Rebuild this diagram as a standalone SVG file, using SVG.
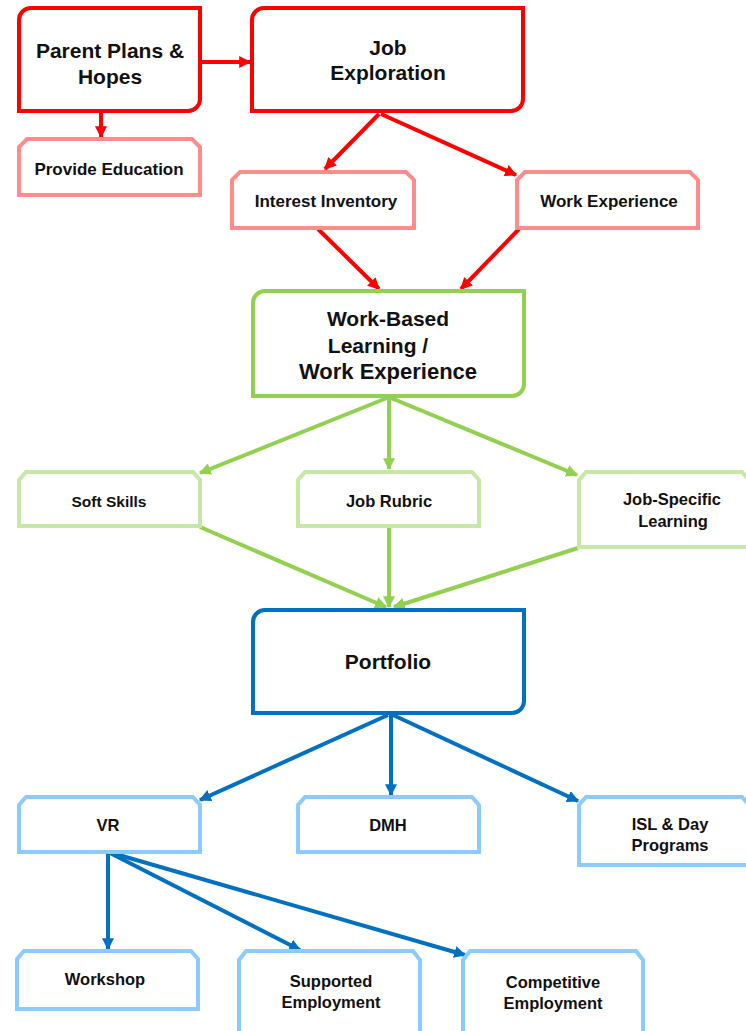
<svg xmlns="http://www.w3.org/2000/svg" width="746" height="1031" viewBox="0 0 746 1031">
  <style>
    text { font-family: "Liberation Sans", Arial, sans-serif; font-weight: bold; fill: #111; text-anchor: middle; }
    .big { font-size: 21px; }
    .mid { font-size: 17px; }
    .sm { font-size: 16.5px; }
    .box { fill: #fff; stroke-width: 4; stroke-linejoin: miter; }
    .red { stroke: #FF0000; }
    .pink { stroke: #FF8C8C; }
    .green { stroke: #92D050; }
    .lgreen { stroke: #C6E7A6; }
    .blue { stroke: #0070C0; }
    .lblue { stroke: #8DCAFF; }
    .c { fill: none; stroke-width: 4; }
  </style>
  <defs>
    <marker id="ah-red" viewBox="0 0 10 10" refX="9" refY="5" markerWidth="3" markerHeight="3" orient="auto" markerUnits="strokeWidth">
      <path d="M0,0 L10,5 L0,10 Z" fill="#FF0000"/>
    </marker>
    <marker id="ah-green" viewBox="0 0 10 10" refX="9" refY="5" markerWidth="3" markerHeight="3" orient="auto" markerUnits="strokeWidth">
      <path d="M0,0 L10,5 L0,10 Z" fill="#92D050"/>
    </marker>
    <marker id="ah-blue" viewBox="0 0 10 10" refX="9" refY="5" markerWidth="3" markerHeight="3" orient="auto" markerUnits="strokeWidth">
      <path d="M0,0 L10,5 L0,10 Z" fill="#0070C0"/>
    </marker>
  </defs>

  <!-- connectors -->
  <g id="connectors">
    <g class="c" stroke="#FF0000" marker-end="url(#ah-red)">
      <line x1="202" y1="62" x2="250" y2="62"/>
      <line x1="101" y1="112" x2="101" y2="137"/>
      <line x1="379" y1="114" x2="325" y2="169"/>
      <line x1="381" y1="114" x2="516" y2="175"/>
      <line x1="318" y1="229" x2="379" y2="289"/>
      <line x1="519" y1="229" x2="461" y2="289"/>
    </g>
    <g class="c" stroke="#92D050" marker-end="url(#ah-green)">
      <line x1="387" y1="398" x2="200" y2="473"/>
      <line x1="389" y1="398" x2="389" y2="469"/>
      <line x1="391" y1="398" x2="577" y2="475"/>
      <line x1="200" y1="527" x2="386" y2="607"/>
      <line x1="389" y1="528" x2="389" y2="607"/>
      <line x1="578" y1="548" x2="394" y2="607"/>
    </g>
    <g class="c" stroke="#0070C0" marker-end="url(#ah-blue)">
      <line x1="388" y1="715" x2="200" y2="800"/>
      <line x1="391" y1="715" x2="391" y2="795"/>
      <line x1="393" y1="715" x2="578" y2="801"/>
      <line x1="108" y1="853" x2="108" y2="949"/>
      <line x1="110" y1="853" x2="300" y2="950"/>
      <line x1="112" y1="853" x2="465" y2="955"/>
    </g>
  </g>

  <!-- top tier -->
  <g id="parent-plans">
    <path class="box red" d="M19,20 A12,12 0 0 1 31,8 H200 V99 A12,12 0 0 1 188,111 H19 Z"/>
    <text class="big" x="110" y="58">Parent Plans &amp;</text>
    <text class="big" x="110" y="84">Hopes</text>
  </g>
  <g id="job-exploration">
    <path class="box red" d="M252,20 A12,12 0 0 1 264,8 H523 V99 A12,12 0 0 1 511,111 H252 Z"/>
    <text class="big" x="388" y="55">Job</text>
    <text class="big" x="388" y="80">Exploration</text>
  </g>
  <g id="provide-education">
    <path class="box pink" d="M19,195 V147 L27,139 H192 L200,147 V195 Z"/>
    <text class="mid" x="109" y="175">Provide Education</text>
  </g>
  <g id="interest-inventory">
    <path class="box pink" d="M232,228 V180 L240,172 H406 L414,180 V228 Z"/>
    <text class="mid" x="326" y="207">Interest Inventory</text>
  </g>
  <g id="work-experience-1">
    <path class="box pink" d="M517,228 V180 L525,172 H690 L698,180 V228 Z"/>
    <text class="mid" x="609" y="207">Work Experience</text>
  </g>

  <!-- middle tier -->
  <g id="work-based-learning">
    <path class="box green" d="M253,303 A12,12 0 0 1 265,291 H524 V384 A12,12 0 0 1 512,396 H253 Z"/>
    <text class="big" x="388" y="326">Work-Based</text>
    <text class="big" x="378" y="353">Learning /</text>
    <text class="big" x="388" y="379" style="font-size:22px">Work Experience</text>
  </g>
  <g id="soft-skills">
    <path class="box lgreen" d="M19,526 V480 L26,472 H193 L200,480 V526 Z"/>
    <text class="sm" x="109" y="507" style="font-size:15.5px">Soft Skills</text>
  </g>
  <g id="job-rubric">
    <path class="box lgreen" d="M298,526 V480 L305,472 H472 L479,480 V526 Z"/>
    <text class="sm" x="389" y="507">Job Rubric</text>
  </g>
  <g id="job-specific-learning">
    <path class="box lgreen" d="M579,547 V480 L586,472 H742 L749,480 V547 Z"/>
    <text class="sm" x="672" y="505">Job-Specific</text>
    <text class="sm" x="673" y="527">Learning</text>
  </g>

  <!-- portfolio and services -->
  <g id="portfolio">
    <path class="box blue" d="M253,622 A12,12 0 0 1 265,610 H524 V701 A12,12 0 0 1 512,713 H253 Z"/>
    <text class="big" x="388" y="669">Portfolio</text>
  </g>
  <g id="vr">
    <path class="box lblue" d="M19,852 V805 L26,797 H193 L200,805 V852 Z"/>
    <text class="sm" x="108" y="831">VR</text>
  </g>
  <g id="dmh">
    <path class="box lblue" d="M298,852 V805 L305,797 H472 L479,805 V852 Z"/>
    <text class="sm" x="388" y="831">DMH</text>
  </g>
  <g id="isl-day-programs">
    <path class="box lblue" d="M579,865 V805 L586,797 H742 L749,805 V865 Z"/>
    <text class="sm" x="670" y="830">ISL &amp; Day</text>
    <text class="sm" x="670" y="851">Programs</text>
  </g>
  <g id="workshop">
    <path class="box lblue" d="M17,1009 V959 L24,951 H191 L198,959 V1009 Z"/>
    <text class="sm" x="105" y="985">Workshop</text>
  </g>
  <g id="supported-employment">
    <path class="box lblue" d="M239,1035 V960 L246,951 H413 L420,960 V1035 Z"/>
    <text class="sm" x="331" y="987">Supported</text>
    <text class="sm" x="331" y="1008">Employment</text>
  </g>
  <g id="competitive-employment">
    <path class="box lblue" d="M463,1035 V960 L470,951 H636 L643,960 V1035 Z"/>
    <text class="sm" x="553" y="988">Competitive</text>
    <text class="sm" x="553" y="1009">Employment</text>
  </g>
</svg>
